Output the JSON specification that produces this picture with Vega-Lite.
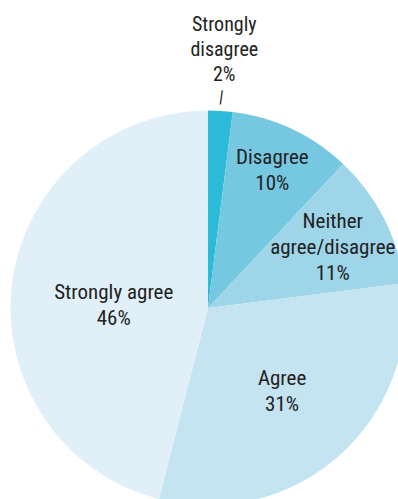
{
  "$schema": "https://vega.github.io/schema/vega-lite/v6.json",
  "width": 416,
  "height": 616,
  "autosize": {"type": "none"},
  "padding": 0,
  "background": "white",
  "config": {"view": {"stroke": null}},
  "data": {
    "values": [
      {"order": 1, "label": "Strongly disagree", "value": 2, "text": "Strongly\ndisagree\n2%"},
      {"order": 2, "label": "Disagree", "value": 10, "text": "Disagree\n10%"},
      {"order": 3, "label": "Neither agree/disagree", "value": 11, "text": "Neither\nagree/disagree\n11%"},
      {"order": 4, "label": "Agree", "value": 31, "text": "Agree\n31%"},
      {"order": 5, "label": "Strongly agree", "value": 46, "text": "Strongly agree\n46%"}
    ]
  },
  "encoding": {
    "theta": {"field": "value", "type": "quantitative", "stack": true},
    "order": {"field": "order", "type": "quantitative"}
  },
  "layer": [
    {
      "mark": {"type": "arc", "radius": 197.5},
      "encoding": {
        "color": {
          "field": "label",
          "type": "nominal",
          "sort": ["Strongly disagree", "Disagree", "Neither agree/disagree", "Agree", "Strongly agree"],
          "scale": {
            "domain": ["Strongly disagree", "Disagree", "Neither agree/disagree", "Agree", "Strongly agree"],
            "range": ["#2bbad8", "#76c8e1", "#9ed5e9", "#c5e4f1", "#e1f0f8"]
          },
          "legend": null
        }
      }
    },
    {
      "mark": {"type": "text", "radius": 259, "dy": -25, "lineBreak": "\n", "lineHeight": 25, "font": "Liberation Sans Narrow, Roboto Condensed, Arial Narrow, sans-serif", "fontSize": 20, "fill": "#222222", "align": "center", "baseline": "middle"},
      "encoding": {"text": {"condition": {"test": "datum.label == 'Strongly disagree'", "field": "text"}, "value": ""}}
    },
    {
      "mark": {"type": "text", "radius": 211, "angle": 8, "font": "Liberation Sans Narrow, Roboto Condensed, Arial Narrow, sans-serif", "fontSize": 17, "fill": "#222222", "align": "center", "baseline": "middle"},
      "encoding": {"text": {"condition": {"test": "datum.label == 'Strongly disagree'", "value": "|"}, "value": ""}}
    },
    {
      "mark": {"type": "text", "radius": 151, "dy": -13, "lineBreak": "\n", "lineHeight": 26, "font": "Liberation Sans Narrow, Roboto Condensed, Arial Narrow, sans-serif", "fontSize": 21, "fill": "#222222", "align": "center", "baseline": "middle"},
      "encoding": {"text": {"condition": {"test": "datum.label == 'Disagree'", "field": "text"}, "value": ""}}
    },
    {
      "mark": {"type": "text", "radius": 140, "dy": -22, "lineBreak": "\n", "lineHeight": 26, "font": "Liberation Sans Narrow, Roboto Condensed, Arial Narrow, sans-serif", "fontSize": 21, "fill": "#222222", "align": "center", "baseline": "middle"},
      "encoding": {"text": {"condition": {"test": "datum.label == 'Neither agree/disagree'", "field": "text"}, "value": ""}}
    },
    {
      "mark": {"type": "text", "radius": 112, "dy": -13, "lineBreak": "\n", "lineHeight": 26, "font": "Liberation Sans Narrow, Roboto Condensed, Arial Narrow, sans-serif", "fontSize": 21, "fill": "#222222", "align": "center", "baseline": "middle"},
      "encoding": {"text": {"condition": {"test": "datum.label == 'Agree'", "field": "text"}, "value": ""}}
    },
    {
      "mark": {"type": "text", "radius": 95, "dy": -3, "lineBreak": "\n", "lineHeight": 26, "font": "Liberation Sans Narrow, Roboto Condensed, Arial Narrow, sans-serif", "fontSize": 21, "fill": "#222222", "align": "center", "baseline": "middle"},
      "encoding": {"text": {"condition": {"test": "datum.label == 'Strongly agree'", "field": "text"}, "value": ""}}
    }
  ]
}
